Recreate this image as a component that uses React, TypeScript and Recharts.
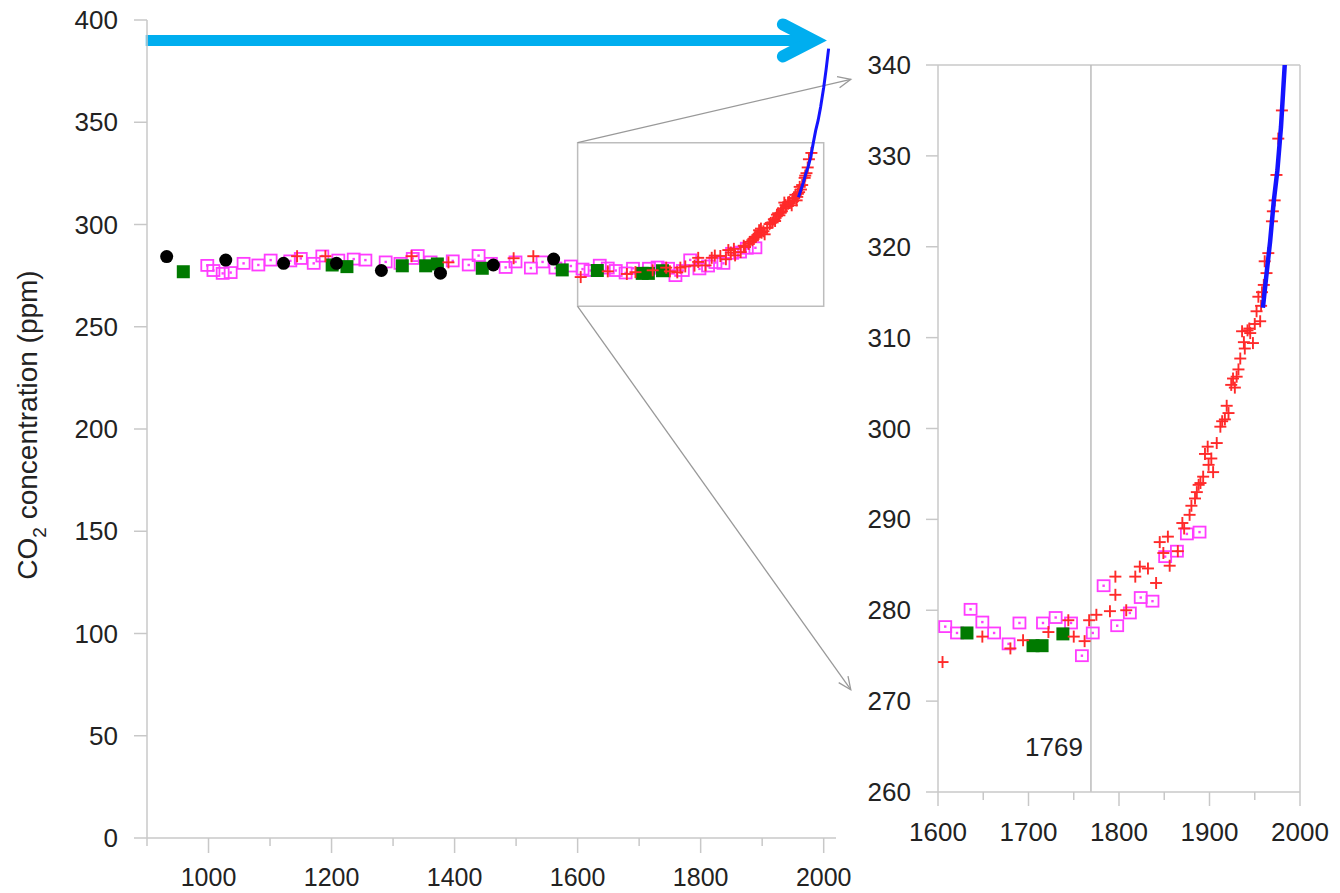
import { ReferenceArea, ReferenceLine, Scatter, ScatterChart, XAxis, YAxis } from 'recharts';

type Pt = [number, number];

// open magenta squares (year, ppm)
const openSquares: Pt[] = [
  [998, 280], [1008, 277.5], [1023, 276.1], [1036, 276.5], [1057, 281], [1081, 280.2],
  [1101, 282.6], [1133, 282.2], [1150, 283.4], [1171, 281], [1185, 284.6], [1211, 282.6],
  [1236, 283.1], [1255, 282.6], [1288, 281.7], [1312, 281], [1332, 283.4], [1340, 284.8],
  [1361, 281.7], [1397, 282.2], [1423, 280.2], [1439, 284.8], [1459, 281], [1483, 279],
  [1499, 281.7], [1524, 278.7], [1543, 281.7], [1564, 278.7], [1589, 279.7],
  [1608, 278.2], [1621, 277.5], [1636, 280.1], [1649, 278.7], [1662, 277.5], [1678, 276.3],
  [1690, 278.6], [1716, 278.6], [1730, 279.2], [1747, 278.6], [1759, 275], [1771, 277.5],
  [1783, 282.7], [1798, 278.3], [1812, 279.7], [1824, 281.4], [1837, 281], [1851, 285.9],
  [1864, 286.5], [1875, 288.4], [1889, 288.6],
];

// filled green squares
const greenSquares: Pt[] = [
  [959, 276.9], [1201, 280.2], [1225, 279.4], [1315, 279.8], [1353, 279.8], [1372, 280.7],
  [1445, 278.6], [1575, 277.8], [1632, 277.5], [1705, 276.1], [1715, 276.1], [1738, 277.4],
];

// black dots
const blackDots: Pt[] = [
  [932, 284.3], [1028, 282.6], [1122, 281], [1208, 281], [1281, 277.5], [1377, 276.2],
  [1463, 280.2], [1561, 283.1],
];

// red crosses
const redCrosses: Pt[] = [
  [1144, 284.5], [1190, 284.5], [1330, 284.5], [1390, 281.5], [1496, 283.5], [1528, 284.5],
  [1605, 274.3], [1649, 277.1], [1680, 275.8], [1694, 276.7], [1722, 277.6], [1744, 278.9],
  [1750, 277.1], [1762, 276.6], [1767, 278.9], [1775, 279.5], [1790, 279.9], [1796, 283.7],
  [1796, 281.7], [1808, 280], [1818, 283.7], [1823, 284.8], [1832, 284.6], [1841, 283],
  [1845, 287.5], [1849, 286.3], [1854, 288.1], [1856, 284.9], [1865, 286.5], [1870, 289.6],
  [1872, 289], [1878, 290.5], [1880, 291.5], [1884, 292.3], [1886, 293], [1888, 293.8],
  [1890, 294], [1893, 294.7], [1895, 297.2], [1898, 298], [1899, 296], [1902, 296.7],
  [1904, 295.2], [1908, 298.4], [1912, 300.2], [1914, 300.8], [1917, 301], [1919, 302.5],
  [1921, 301.7], [1924, 304.8], [1926, 305.5], [1928, 304.5], [1930, 305.7], [1932, 306.5],
  [1934, 307.7], [1936, 310.7], [1938, 309.5], [1939, 308.8], [1942, 310.8], [1944, 311],
  [1945, 310.5], [1948, 309.4], [1950, 311.5], [1952, 312.9], [1954, 314.5], [1956, 311.8],
  [1957, 313.5], [1958, 315], [1960, 315.8], [1961, 318.4], [1963, 317.1], [1965, 319.3],
  [1969, 322.8], [1970, 323.9], [1972, 325.1], [1974, 327.9], [1976, 331.9], [1980, 335],
];

// direct measurements (blue line)
const blueLine: Pt[] = [
  [1959, 313.3], [1963, 317], [1967, 320.6], [1971, 325], [1975, 328.4], [1979, 333.2],
  [1983, 339.8], [1987, 346], [1991, 351], [1995, 357.5], [2000, 367], [2004, 376], [2008, 386],
];

const leftXTicks = [900, 1000, 1100, 1200, 1300, 1400, 1500, 1600, 1700, 1800, 1900, 2000];
const leftYTicks = [0, 50, 100, 150, 200, 250, 300, 350, 400];
const rightXTicks = [1600, 1650, 1700, 1750, 1800, 1850, 1900, 1950, 2000];
const rightYTicks = [260, 270, 280, 290, 300, 310, 320, 330, 340];

const FONT = "'Liberation Sans', Arial, Helvetica, sans-serif";
const FS = 26;
const TEXT = '#222';
const AXIS = '#c8c8c8';
const MAGENTA = '#ff3cff';
const GREEN = '#007a00';
const RED = '#ff2a2a';
const BLUE = '#1414ff';
const CYAN = '#00aeef';
const GUIDE = '#999';

const rows = (pts: Pt[]) => pts.map(([year, ppm]) => ({ year, ppm }));

const OpenSquare = (p: any) => {
  const { cx, cy } = p;
  if (cx == null || cy == null) return <g />;
  return (
    <g>
      <rect x={cx - 6} y={cy - 5.5} width={12} height={11} fill="none" stroke={MAGENTA} strokeWidth={1.8} />
      <rect x={cx - 1.2} y={cy - 1.2} width={2.4} height={2.4} fill={MAGENTA} />
    </g>
  );
};

const GreenSquare = (p: any) => {
  const { cx, cy } = p;
  if (cx == null || cy == null) return <g />;
  return <rect x={cx - 6.5} y={cy - 6.5} width={13} height={13} fill={GREEN} />;
};

const BlackDot = (p: any) => {
  const { cx, cy } = p;
  if (cx == null || cy == null) return <g />;
  return <circle cx={cx} cy={cy} r={6.5} fill="#000" />;
};

const Cross = (p: any) => {
  const { cx, cy } = p;
  if (cx == null || cy == null) return <g />;
  const h = 6;
  return (
    <g stroke={RED} strokeWidth={1.9}>
      <line x1={cx - h} y1={cy} x2={cx + h} y2={cy} />
      <line x1={cx} y1={cy - h} x2={cx} y2={cy + h} />
    </g>
  );
};

const NoMark = () => <g />;

const xTick = (
  isMajor: (v: number) => boolean,
  majorLen: number,
  minorLen: number,
  labelDy: number,
  fs: number,
) =>
  (props: any) => {
    const { x, y, payload } = props;
    const v = payload.value;
    const major = isMajor(v);
    return (
      <g>
        <line x1={x} y1={y} x2={x} y2={y + (major ? majorLen : minorLen)} stroke={AXIS} strokeWidth={1.5} />
        {major && (
          <text x={x} y={y + labelDy} textAnchor="middle" fill={TEXT} fontSize={fs} fontFamily={FONT}>
            {v}
          </text>
        )}
      </g>
    );
  };

const yTick = (len: number, gap: number) => (props: any) => {
  const { x, y, payload } = props;
  return (
    <g>
      <line x1={x - len} y1={y} x2={x} y2={y} stroke={AXIS} strokeWidth={1.5} />
      <text x={x - gap} y={y + 9} textAnchor="end" fill={TEXT} fontSize={FS} fontFamily={FONT}>
        {payload.value}
      </text>
    </g>
  );
};

const BlueArrow = (p: any) => {
  const { x1, y1, x2, y2 } = p;
  return (
    <g>
      <line x1={x1} y1={y1} x2={x2 - 4} y2={y2} stroke={CYAN} strokeWidth={11} />
      <polyline
        points={`${x2 - 31},${y2 - 16} ${x2},${y2} ${x2 - 31},${y2 + 16}`}
        fill="none"
        stroke={CYAN}
        strokeWidth={12}
        strokeLinecap="round"
        strokeLinejoin="miter"
      />
    </g>
  );
};

const GuideArrow = (p: any) => {
  const { x1, y1, x2, y2 } = p;
  const a = Math.atan2(y2 - y1, x2 - x1);
  const L = 14;
  const W = 0.42;
  const bx1 = x2 - L * Math.cos(a - W);
  const by1 = y2 - L * Math.sin(a - W);
  const bx2 = x2 - L * Math.cos(a + W);
  const by2 = y2 - L * Math.sin(a + W);
  return (
    <g stroke={GUIDE} strokeWidth={1.3} fill="none">
      <line x1={x1} y1={y1} x2={x2} y2={y2} />
      <polyline points={`${bx1},${by1} ${x2},${y2} ${bx2},${by2}`} />
    </g>
  );
};

const YTitle = (props: any) => {
  const vb = props.viewBox || { x: 27, y: 20, width: 120, height: 818 };
  const x = vb.x + 10;
  const y = vb.y + vb.height / 2 - 4;
  return (
    <text
      x={x}
      y={y}
      transform={`rotate(-90, ${x}, ${y})`}
      textAnchor="middle"
      fill={TEXT}
      fontSize={28}
      fontFamily={FONT}
    >
      CO
      <tspan dy={9} fontSize={19}>2</tspan>
      <tspan dy={-9}> concentration (ppm)</tspan>
    </text>
  );
};

const YearLabel = (props: any) => {
  const vb = props.viewBox;
  if (!vb) return null;
  return (
    <text x={vb.x - 8} y={vb.y + vb.height - 36} textAnchor="end" fill={TEXT} fontSize={FS} fontFamily={FONT}>
      1769
    </text>
  );
};

export default function App() {
  const axisLine = { stroke: AXIS, strokeWidth: 1.5 };
  const series = [
    <Scatter key="m" data={rows(openSquares)} fill={MAGENTA} shape={OpenSquare} isAnimationActive={false} />,
    <Scatter key="g" data={rows(greenSquares)} fill={GREEN} shape={GreenSquare} isAnimationActive={false} />,
    <Scatter key="r" data={rows(redCrosses)} fill={RED} shape={Cross} isAnimationActive={false} />,
    <Scatter key="k" data={rows(blackDots)} fill="#000" shape={BlackDot} isAnimationActive={false} />,
  ];

  return (
    <div style={{ position: 'absolute', left: 0, top: 0, width: 1340, height: 893, background: '#fff' }}>
      <div style={{ position: 'absolute', left: 0, top: 0 }}>
        <ScatterChart width={860} height={893} margin={{ top: 20, right: 24, bottom: 15, left: 27 }}>
          <XAxis
            type="number"
            dataKey="year"
            domain={[900, 2020]}
            ticks={leftXTicks}
            interval={0}
            tickSize={0}
            tickMargin={0}
            tickLine={false}
            tick={xTick((v) => v % 200 === 0, 15, 8, 48, 25)}
            axisLine={axisLine}
            height={40}
            allowDataOverflow
          />
          <YAxis
            type="number"
            dataKey="ppm"
            domain={[0, 400]}
            ticks={leftYTicks}
            interval={0}
            tickSize={0}
            tickMargin={0}
            tickLine={false}
            tick={yTick(13, 29)}
            axisLine={axisLine}
            width={120}
            label={<YTitle />}
          />
          <ReferenceArea
            x1={1600}
            x2={2000}
            y1={260}
            y2={340}
            fill="none"
            fillOpacity={0}
            stroke="#bdbdbd"
            strokeWidth={1.5}
            ifOverflow="visible"
          />
          <ReferenceLine
            segment={[{ x: 1600, y: 340 }, { x: 2044, y: 371 }]}
            shape={GuideArrow}
            ifOverflow="visible"
          />
          <ReferenceLine
            segment={[{ x: 1600, y: 260 }, { x: 2044, y: 72.5 }]}
            shape={GuideArrow}
            ifOverflow="visible"
          />
          {series}
          <Scatter
            data={rows(blueLine)}
            fill={BLUE}
            line={{ stroke: BLUE, strokeWidth: 3 }}
            shape={NoMark}
            isAnimationActive={false}
          />
          <ReferenceLine
            segment={[{ x: 898, y: 390 }, { x: 1984, y: 390 }]}
            shape={BlueArrow}
            ifOverflow="visible"
          />
        </ScatterChart>
      </div>
      <div style={{ position: 'absolute', left: 840, top: 0 }}>
        <ScatterChart width={500} height={893} margin={{ top: 65, right: 40, bottom: 41, left: 8 }}>
          <XAxis
            type="number"
            dataKey="year"
            domain={[1600, 2000]}
            ticks={rightXTicks}
            interval={0}
            tickSize={0}
            tickMargin={0}
            tickLine={false}
            tick={xTick((v) => v % 100 === 0, 14, 8, 49, FS)}
            axisLine={axisLine}
            height={60}
            allowDataOverflow
          />
          <YAxis
            type="number"
            dataKey="ppm"
            domain={[260, 340]}
            ticks={rightYTicks}
            interval={0}
            tickSize={0}
            tickMargin={0}
            tickLine={false}
            tick={yTick(12, 27)}
            axisLine={axisLine}
            width={90}
            allowDataOverflow
          />
          <ReferenceLine y={340} stroke={AXIS} strokeWidth={1.5} />
          <ReferenceLine x={2000} stroke={AXIS} strokeWidth={1.5} />
          <ReferenceLine x={1769} stroke="#bbb" strokeWidth={1.5} label={<YearLabel />} />
          {series}
          <Scatter
            data={rows(blueLine)}
            fill={BLUE}
            line={{ stroke: BLUE, strokeWidth: 4.5 }}
            shape={NoMark}
            isAnimationActive={false}
          />
        </ScatterChart>
      </div>
    </div>
  );
}
